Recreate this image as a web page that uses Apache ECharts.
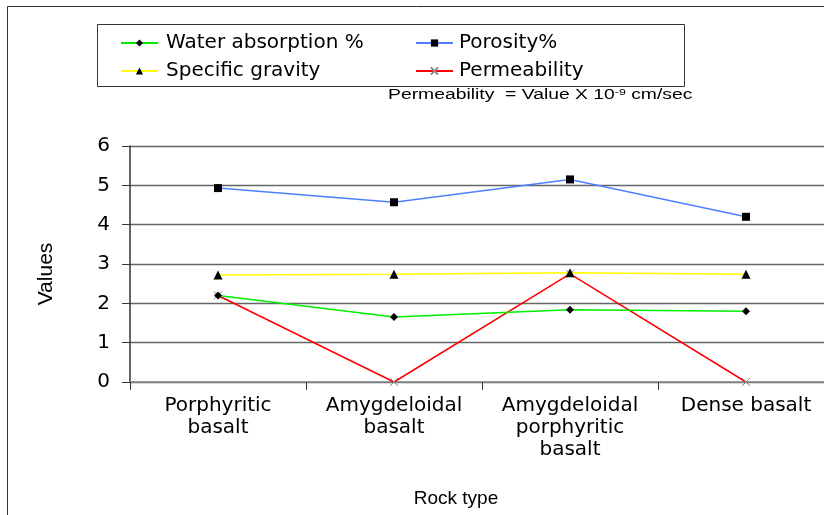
<!DOCTYPE html>
<html><head><meta charset="utf-8">
<script src="https://cdn.jsdelivr.net/npm/echarts@6/dist/echarts.min.js"></script>
<style>html,body{margin:0;padding:0;background:#fff}#c{width:824px;height:515px}</style>
</head><body><div id="c"></div>
<script>
const categories = ['Porphyritic\nbasalt', 'Amygdeloidal\nbasalt', 'Amygdeloidal\nporphyritic\nbasalt', 'Dense basalt'];
const waterAbsorption = [2.2, 1.65, 1.84, 1.8];
const porosity = [4.93, 4.57, 5.15, 4.2];
const specificGravity = [2.72, 2.74, 2.78, 2.74];
const permeability = [2.2, 0, 2.75, 0];
const yTicks = [0, 1, 2, 3, 4, 5, 6];

const F = 'Liberation Sans, Arial, sans-serif';
const W = 'DejaVu Sans, sans-serif';
const chart = echarts.init(document.getElementById('c'));
const crossPath = 'path://M0,0L10,10M10,0L0,10';
chart.setOption({
  animation: false,
  graphic: [
    {type: 'rect', shape: {x: 7.5, y: 6.5, width: 900, height: 600}, style: {fill: 'none', stroke: '#333', lineWidth: 1}},
    {type: 'rect', shape: {x: 97.5, y: 24.5, width: 587, height: 62}, style: {fill: 'none', stroke: '#333', lineWidth: 1}, z: 1},
    {type: 'text', x: 388, y: 88, scaleX: 1.38, originX: 0, style: {
      text: '{a|Permeability  = Value X 10}{s|-9}{a| cm/sec}',
      rich: {a: {fontSize: 14, fontFamily: F, fill: '#000'}, s: {fontSize: 9, fontFamily: F, fill: '#000', verticalAlign: 'top', padding: [0, 0, 6, 0]}}
    }}
  ],
  legend: [
    {data: ['Water absorption %', 'Specific gravity'], orient: 'vertical', left: 115, top: 28, itemWidth: 37, itemHeight: 9, itemGap: 8,
      textStyle: {fontSize: 20, fontFamily: W, color: '#000', padding: [0, 0, 0, 3]}},
    {data: ['Porosity%', 'Permeability'], orient: 'vertical', left: 410, top: 28, itemWidth: 37, itemHeight: 9, itemGap: 8,
      textStyle: {fontSize: 20, fontFamily: W, color: '#000', padding: [0, 0, 0, 1]}}
  ],
  grid: {left: 130, right: -10, top: 146, bottom: 133, outerBoundsMode: 'none'},
  xAxis: {
    type: 'category', data: categories, boundaryGap: true,
    name: 'Rock type', nameLocation: 'middle', nameGap: 107,
    nameTextStyle: {fontSize: 19, fontFamily: F, color: '#000', padding: [0, 0, 0, -52]},
    axisLine: {lineStyle: {color: '#888', width: 1.5}},
    axisTick: {show: true, length: 8, lineStyle: {color: '#333'}},
    axisLabel: {fontSize: 20, fontFamily: W, color: '#000', lineHeight: 22, margin: 13, interval: 0}
  },
  yAxis: {
    type: 'value', min: 0, max: 6, interval: 1,
    name: 'Values', nameLocation: 'middle', nameGap: 73, nameRotate: 90,
    nameTextStyle: {fontSize: 21, fontFamily: F, color: '#000', padding: [0, 20, 0, 0]},
    axisLine: {show: true, lineStyle: {color: '#333', width: 1.5}},
    axisTick: {show: true, length: 8, lineStyle: {color: '#333'}},
    axisLabel: {fontSize: 20, fontFamily: W, color: '#000', margin: 20,
      formatter: v => yTicks.includes(v) ? String(v) : ''},
    splitLine: {lineStyle: {color: '#666', width: 1.3}}
  },
  series: [
    {name: 'Water absorption %', type: 'line', data: waterAbsorption, symbol: 'diamond', symbolSize: 8,
      lineStyle: {color: '#00ee00', width: 1.5}, itemStyle: {color: '#000'}, z: 3},
    {name: 'Porosity%', type: 'line', data: porosity, symbol: 'rect', symbolSize: 8,
      lineStyle: {color: '#4d7fff', width: 1.5}, itemStyle: {color: '#000'}, z: 3},
    {name: 'Specific gravity', type: 'line', data: specificGravity, symbol: 'triangle', symbolSize: 9,
      lineStyle: {color: '#ffff00', width: 1.5}, itemStyle: {color: '#000'}, z: 3},
    {name: 'Permeability', type: 'line', data: permeability, symbol: crossPath, symbolSize: 8,
      lineStyle: {color: '#ff0000', width: 1.5}, itemStyle: {color: '#888', borderColor: '#888', borderWidth: 1}, z: 2}
  ]
});
</script></body></html>
